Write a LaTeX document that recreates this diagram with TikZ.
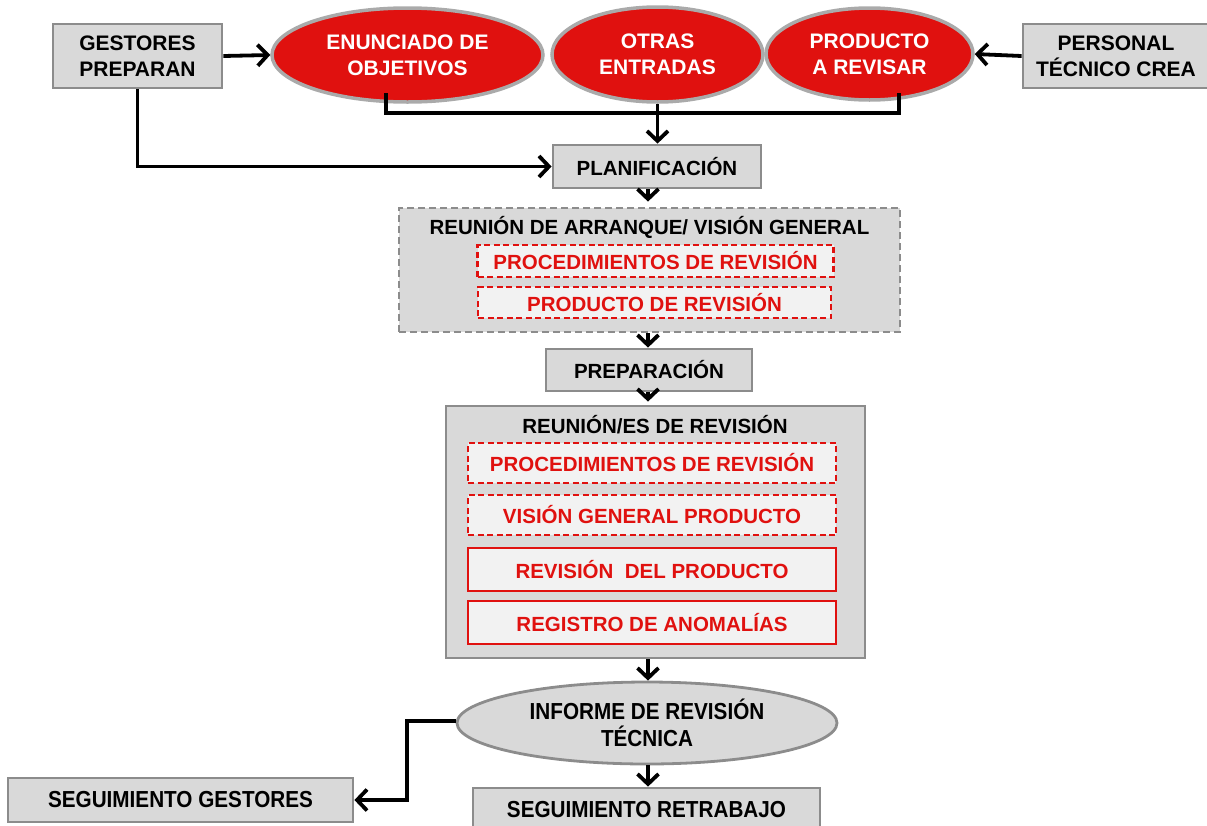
\documentclass[tikz,border=0pt]{standalone}
\usepackage{fontspec}
\usepackage{graphicx}
\setmainfont{Liberation Sans}
\usetikzlibrary{arrows.meta,shapes.geometric,calc}

\definecolor{boxgray}{RGB}{217,217,217}
\definecolor{edgegray}{RGB}{140,140,140}
\definecolor{ringgray}{RGB}{170,170,170}
\definecolor{hotred}{RGB}{224,17,15}
\definecolor{paleback}{RGB}{242,242,242}

% taller lettering used in the lower part of the chart
\newcommand{\tallword}[1]{\scalebox{1}[1.12]{#1}}

\tikzset{
  base/.style={font=\bfseries\fontsize{20.5}{26}\selectfont, align=center, inner sep=0pt},
  topfont/.style={font=\bfseries\fontsize{21}{26}\selectfont},
  lowfont/.style={font=\bfseries\fontsize{20.7}{27}\selectfont},
  graybox/.style={base, rectangle, fill=boxgray, draw=edgegray, line width=2.8pt},
  redoval/.style={base, topfont, ellipse, fill=hotred, draw=ringgray, line width=3.5pt, text=white},
  grayoval/.style={base, lowfont, ellipse, fill=boxgray, draw=edgegray, line width=2.8pt},
  dashgroup/.style={base, rectangle, fill=boxgray, draw=edgegray, line width=2.8pt, dash pattern=on 7pt off 4pt},
  solidgroup/.style={base, rectangle, fill=boxgray, draw=edgegray, line width=2.8pt},
  reddash/.style={base, rectangle, fill=paleback, draw=hotred, line width=2.6pt, dash pattern=on 6pt off 3.5pt, text=hotred},
  redsolid/.style={base, rectangle, fill=paleback, draw=hotred, line width=2.6pt, text=hotred},
  grouptitle/.style={base},
  link/.style={line width=3.8pt, draw=black},
  arr/.style={link, -{Straight Barb[length=10pt,width=21pt,line width=3.8pt]}},
}

\begin{document}
\begin{tikzpicture}[x=1pt,y=-1pt]
\useasboundingbox (0,0) rectangle (1207,825);

% top row: sources and inputs
\node[graybox, topfont, minimum width=169pt, minimum height=64pt] (gp) at (137.5,56) {GESTORES\\PREPARAN};
\node[redoval, minimum width=271pt, minimum height=94pt] (eo) at (407.5,55) {ENUNCIADO DE\\OBJETIVOS};
\node[redoval, minimum width=211pt, minimum height=95pt] (oe) at (657.5,54.5) {OTRAS\\ENTRADAS};
\node[redoval, minimum width=207pt, minimum height=92pt] (pr) at (869.5,54) {PRODUCTO\\A REVISAR};
\node[graybox, topfont, minimum width=186pt, minimum height=64pt] (pt) at (1116,56) {PERSONAL\\TÉCNICO CREA};

% planning
\node[graybox, minimum width=208pt, minimum height=43pt] (plan) at (657,166.5) {PLANIFICACIÓN};

% kick-off meeting group
\node[dashgroup, minimum width=501pt, minimum height=124pt] (ra) at (649.5,270) {};
\node[grouptitle] (raT) at (649.5,227) {REUNIÓN DE ARRANQUE/ VISIÓN GENERAL};
\node[reddash, minimum width=356pt, minimum height=32pt] (ra1) at (655.5,261) {PROCEDIMIENTOS DE REVISIÓN};
\node[reddash, minimum width=353pt, minimum height=31pt] (ra2) at (654.5,302.5) {PRODUCTO DE REVISIÓN};

% preparation
\node[graybox, minimum width=206pt, minimum height=42pt] (prep) at (649,370) {PREPARACIÓN};

% review meeting group
\node[solidgroup, minimum width=419pt, minimum height=252pt] (rr) at (655.5,532) {};
\node[grouptitle] (rrT) at (655,425) {REUNIÓN/ES DE REVISIÓN};
\node[reddash, minimum width=368pt, minimum height=40pt] (rr1) at (652,463) {PROCEDIMIENTOS DE REVISIÓN};
\node[reddash, minimum width=368pt, minimum height=40pt] (rr2) at (652,515) {VISIÓN GENERAL PRODUCTO};
\node[redsolid, minimum width=368pt, minimum height=43pt] (rr3) at (652,569.5) {REVISIÓN\ \ DEL PRODUCTO};
\node[redsolid, minimum width=368pt, minimum height=43pt] (rr4) at (652,622.5) {REGISTRO DE ANOMALÍAS};

% report and follow-up
\node[grayoval, minimum width=380pt, minimum height=82pt] (inf) at (647,723) {\tallword{INFORME DE REVISIÓN}\\\tallword{TÉCNICA}};
\node[graybox, lowfont, minimum width=345pt, minimum height=44pt] (sg) at (180.5,800) {\tallword{SEGUIMIENTO GESTORES}};
\node[graybox, lowfont, minimum width=347pt, minimum height=44pt] (sr) at (646.5,810) {\tallword{SEGUIMIENTO RETRABAJO}};

% connectors
\draw[arr] (gp.east) -- (eo.west);
\draw[arr] (pt.west) -- (pr.east);

\coordinate (eoFoot) at (386,93);
\coordinate (prFoot) at (899,93);
\draw[link] (eoFoot) -- ++(0,20) -| (prFoot);
\draw[arr] (oe.south) -- (oe.south |- plan.north);
\draw[arr] (gp.south) |- (plan.west);

\coordinate (mainX) at (648,0);
\draw[arr] (mainX |- plan.south) -- ([yshift=5pt]mainX |- ra.north);
\draw[arr] (mainX |- ra.south) -- (mainX |- prep.north);
\draw[arr] (mainX |- prep.south) -- ([yshift=3pt]mainX |- rr.north);
\draw[arr] (mainX |- rr.south) -- (mainX |- inf.north);
\draw[arr] (mainX |- inf.south) -- (mainX |- sr.north);

\coordinate (sgBend) at (407,721);
\draw[arr] (inf.west |- sgBend) -- (sgBend) |- (sg.east);
\end{tikzpicture}
\end{document}
